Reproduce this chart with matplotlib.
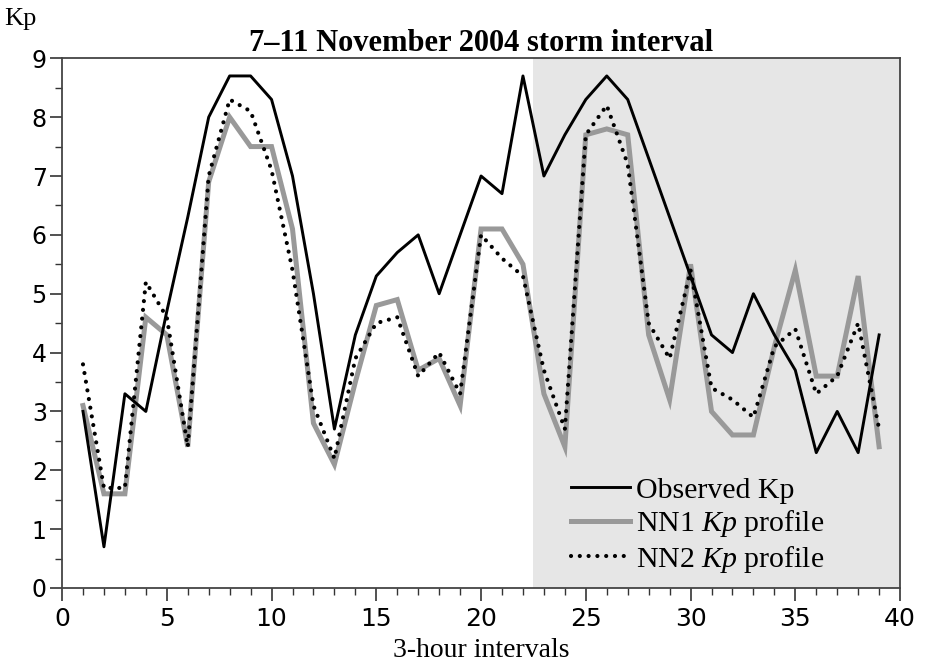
import matplotlib
matplotlib.use("Agg")
import matplotlib.pyplot as plt
from matplotlib.ticker import MultipleLocator

# 3-hour intervals 1..39
intervals = list(range(1, 40))
observed_kp = [3.0, 0.7, 3.3, 3.0, 4.7, 6.3, 8.0, 8.7, 8.7, 8.3,
               7.0, 5.0, 2.7, 4.3, 5.3, 5.7, 6.0, 5.0, 6.0, 7.0,
               6.7, 8.7, 7.0, 7.7, 8.3, 8.7, 8.3, 7.3, 6.3, 5.3,
               4.3, 4.0, 5.0, 4.3, 3.7, 2.3, 3.0, 2.3, 4.3]
nn1_kp = [3.1, 1.6, 1.6, 4.6, 4.3, 2.4, 6.9, 8.0, 7.5, 7.5,
          6.1, 2.8, 2.1, 3.5, 4.8, 4.9, 3.7, 3.9, 3.1, 6.1,
          6.1, 5.5, 3.3, 2.4, 7.7, 7.8, 7.7, 4.3, 3.2, 5.5,
          3.0, 2.6, 2.6, 4.1, 5.4, 3.6, 3.6, 5.3, 2.4]
nn2_kp = [3.8, 1.7, 1.7, 5.2, 4.6, 2.4, 7.0, 8.3, 8.1, 7.1,
          5.4, 3.1, 2.2, 3.9, 4.5, 4.6, 3.6, 4.0, 3.3, 6.0,
          5.6, 5.3, 3.7, 2.7, 7.7, 8.2, 7.2, 4.5, 3.9, 5.4,
          3.4, 3.2, 2.9, 4.1, 4.4, 3.3, 3.6, 4.5, 2.7]
shade_start, shade_end = 22.5, 40

plt.rcParams["mathtext.fontset"] = "custom"
plt.rcParams["mathtext.rm"] = "Liberation Serif"
plt.rcParams["mathtext.it"] = "Liberation Serif:italic"

fig = plt.figure(figsize=(9.26, 6.70), dpi=100)
ax = fig.add_axes([0.067, 0.1224, 0.905, 0.7906])

ax.axvspan(shade_start, shade_end, color="#e6e6e6", lw=0, zorder=0)
ax.plot(intervals, nn1_kp, color="#999999", lw=3.6, solid_joinstyle="miter",
        label=r"NN1 $\mathit{Kp}$ profile", zorder=2)
ax.plot(intervals, observed_kp, color="black", lw=2.1, label="Observed Kp", zorder=3)
ax.plot(intervals, nn2_kp, color="black", lw=3.0, linestyle=(0, (0.01, 2.1)),
        dash_capstyle="round", label=r"NN2 $\mathit{Kp}$ profile", zorder=4)

ax.set_xlim(0, 40)
ax.set_ylim(0, 9)
ax.xaxis.set_major_locator(MultipleLocator(5))
ax.xaxis.set_minor_locator(MultipleLocator(1))
ax.yaxis.set_major_locator(MultipleLocator(1))
ax.yaxis.set_minor_locator(MultipleLocator(0.5))
ax.tick_params(which="major", direction="out", length=9, width=1.2, color="#333333",
               labelsize=17, pad=2)
ax.tick_params(which="minor", direction="out", length=5, width=1.0, color="#333333")
ax.tick_params(axis="x", labelsize=18, pad=5)
for side in ["left", "bottom", "top", "right"]:
    ax.spines[side].set_color("#444444")
    ax.spines[side].set_linewidth(1.3)

serif = ["Liberation Serif", "DejaVu Serif"]
ax.set_title("7\u201311 November 2004 storm interval", fontfamily=serif,
             fontweight="bold", fontsize=22, pad=4)
ax.set_xlabel("3-hour intervals", fontfamily=serif, fontsize=20, labelpad=5)
fig.text(0.005, 0.955, "Kp", fontfamily=serif, fontsize=19, ha="left", va="bottom")

handles, labels = ax.get_legend_handles_labels()
order = [1, 0, 2]
leg = ax.legend([handles[i] for i in order], [labels[i] for i in order],
                loc="lower right", bbox_to_anchor=(0.935, -0.014), frameon=False,
                prop={"family": serif, "size": 21.5}, handlelength=2.0,
                handletextpad=0.2, labelspacing=0.15, borderaxespad=0.3)

fig.savefig("out.png", dpi=100)
